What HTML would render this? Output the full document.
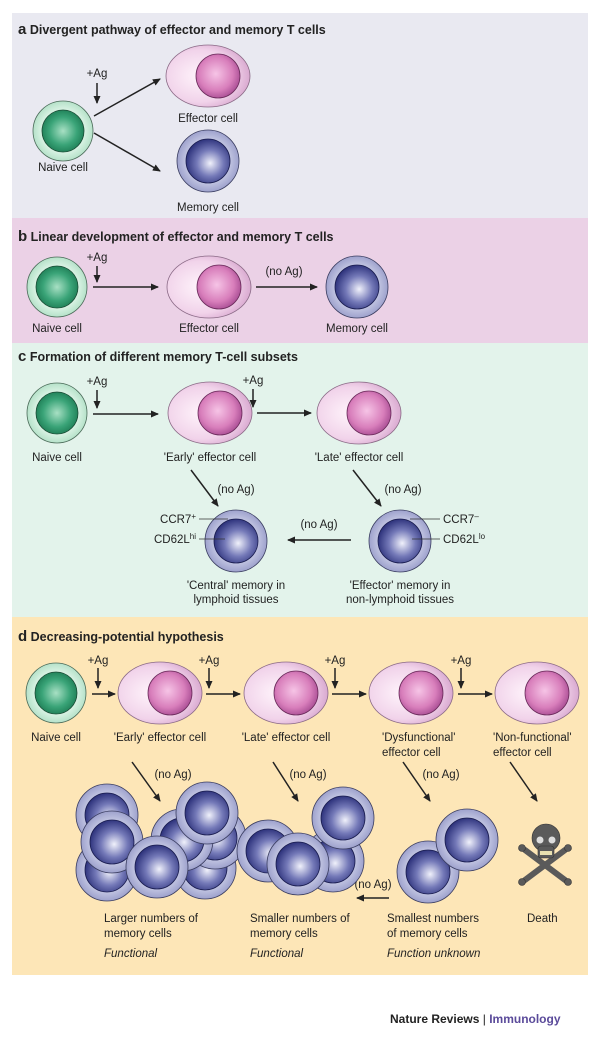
<!DOCTYPE html>
<html><head><meta charset="utf-8"><style>
html,body{margin:0;padding:0;background:#fff;}
svg{display:block;font-family:"Liberation Sans",sans-serif;}
</style></head><body>
<svg width="600" height="1039" viewBox="0 0 600 1039" xmlns="http://www.w3.org/2000/svg">
<defs>
<radialGradient id="nin" cx="50%" cy="50%" r="55%"><stop offset="0" stop-color="#a8e0c4"/><stop offset="0.6" stop-color="#3aa478"/><stop offset="1" stop-color="#1b7a52"/></radialGradient>
<radialGradient id="nout" cx="50%" cy="50%" r="55%"><stop offset="0.6" stop-color="#dff5e8"/><stop offset="1" stop-color="#a9dcc0"/></radialGradient>
<radialGradient id="eout" cx="40%" cy="50%" r="60%"><stop offset="0" stop-color="#fff4fb"/><stop offset="0.7" stop-color="#f1d3ea"/><stop offset="1" stop-color="#d9a9d0"/></radialGradient>
<radialGradient id="ein" cx="45%" cy="45%" r="55%"><stop offset="0" stop-color="#f6c4e6"/><stop offset="0.7" stop-color="#d87ebb"/><stop offset="1" stop-color="#b0559a"/></radialGradient>
<radialGradient id="mout" cx="50%" cy="50%" r="55%"><stop offset="0.55" stop-color="#cdd0e8"/><stop offset="1" stop-color="#9296c6"/></radialGradient>
<radialGradient id="min" cx="55%" cy="55%" r="55%"><stop offset="0" stop-color="#f0f1fb"/><stop offset="0.55" stop-color="#7479b8"/><stop offset="1" stop-color="#30357e"/></radialGradient>
<marker id="ah" markerWidth="8" markerHeight="8" refX="7" refY="4" orient="auto" markerUnits="userSpaceOnUse"><path d="M0,0.5 L8,4 L0,7.5 Z" fill="#222"/></marker>
<g id="naive"><circle r="30" fill="url(#nout)" stroke="#4a6a58" stroke-width="0.8"/><circle r="21" fill="url(#nin)" stroke="#1a4a34" stroke-width="0.8"/></g>
<g id="eff"><ellipse rx="42" ry="31" fill="url(#eout)" stroke="#8a6a86" stroke-width="0.8"/><circle cx="10" r="22" fill="url(#ein)" stroke="#6a2a5a" stroke-width="0.8"/></g>
<g id="mem"><circle r="31" fill="url(#mout)" stroke="#3a3d60" stroke-width="0.8"/><circle r="22" fill="url(#min)" stroke="#1a1d50" stroke-width="0.8"/></g>
</defs>
<g fill="#222" font-size="11.5">
<rect x="12" y="13" width="576" height="205" fill="#e9e9f1"/>
<rect x="12" y="218" width="576" height="125" fill="#ebd1e6"/>
<rect x="12" y="343" width="576" height="274" fill="#e3f3eb"/>
<rect x="12" y="617" width="576" height="358" fill="#fde6b7"/>

<!-- a -->
<text x="18" y="34" font-weight="bold" font-size="12.5"><tspan font-size="15">a</tspan>  Divergent pathway of effector and memory T cells</text>
<use href="#naive" x="63" y="131"/>
<text x="63" y="171" text-anchor="middle">Naive cell</text>
<text x="97" y="77" text-anchor="middle">+Ag</text>
<line x1="97" y1="83" x2="97" y2="103" stroke="#222" stroke-width="1.5" marker-end="url(#ah)"/>
<line x1="94" y1="116" x2="160" y2="79" stroke="#222" stroke-width="1.5" marker-end="url(#ah)"/>
<line x1="94" y1="133" x2="160" y2="171" stroke="#222" stroke-width="1.5" marker-end="url(#ah)"/>
<use href="#eff" x="208" y="76"/>
<text x="208" y="122" text-anchor="middle">Effector cell</text>
<use href="#mem" x="208" y="161"/>
<text x="208" y="211" text-anchor="middle">Memory cell</text>

<!-- b -->
<text x="18" y="241" font-weight="bold" font-size="12.5"><tspan font-size="15">b</tspan>  Linear development of effector and memory T cells</text>
<use href="#naive" x="57" y="287"/>
<text x="57" y="332" text-anchor="middle">Naive cell</text>
<text x="97" y="261" text-anchor="middle">+Ag</text>
<line x1="97" y1="266" x2="97" y2="282" stroke="#222" stroke-width="1.5" marker-end="url(#ah)"/>
<line x1="93" y1="287" x2="158" y2="287" stroke="#222" stroke-width="1.5" marker-end="url(#ah)"/>
<use href="#eff" x="209" y="287"/>
<text x="209" y="332" text-anchor="middle">Effector cell</text>
<text x="284" y="275" text-anchor="middle">(no Ag)</text>
<line x1="256" y1="287" x2="317" y2="287" stroke="#222" stroke-width="1.5" marker-end="url(#ah)"/>
<use href="#mem" x="357" y="287"/>
<text x="357" y="332" text-anchor="middle">Memory cell</text>

<!-- c -->
<text x="18" y="361" font-weight="bold" font-size="12.5"><tspan font-size="15">c</tspan>  Formation of different memory T-cell subsets</text>
<use href="#naive" x="57" y="413"/>
<text x="57" y="461" text-anchor="middle">Naive cell</text>
<text x="97" y="385" text-anchor="middle">+Ag</text>
<line x1="97" y1="390" x2="97" y2="408" stroke="#222" stroke-width="1.5" marker-end="url(#ah)"/>
<line x1="93" y1="414" x2="158" y2="414" stroke="#222" stroke-width="1.5" marker-end="url(#ah)"/>
<use href="#eff" x="210" y="413"/>
<text x="210" y="461" text-anchor="middle">'Early' effector cell</text>
<text x="253" y="384" text-anchor="middle">+Ag</text>
<line x1="253" y1="389" x2="253" y2="407" stroke="#222" stroke-width="1.5" marker-end="url(#ah)"/>
<line x1="257" y1="413" x2="311" y2="413" stroke="#222" stroke-width="1.5" marker-end="url(#ah)"/>
<use href="#eff" x="359" y="413"/>
<text x="359" y="461" text-anchor="middle">'Late' effector cell</text>
<line x1="191" y1="470" x2="218" y2="506" stroke="#222" stroke-width="1.5" marker-end="url(#ah)"/>
<text x="236" y="493" text-anchor="middle">(no Ag)</text>
<line x1="353" y1="470" x2="381" y2="506" stroke="#222" stroke-width="1.5" marker-end="url(#ah)"/>
<text x="403" y="493" text-anchor="middle">(no Ag)</text>
<use href="#mem" x="236" y="541"/>
<use href="#mem" x="400" y="541"/>
<line x1="199" y1="519" x2="228" y2="519" stroke="#333" stroke-width="0.8"/>
<line x1="199" y1="539" x2="225" y2="539" stroke="#333" stroke-width="0.8"/>
<text x="196" y="523" text-anchor="end">CCR7<tspan dy="-4" font-size="8">+</tspan></text>
<text x="196" y="543" text-anchor="end">CD62L<tspan dy="-4" font-size="8">hi</tspan></text>
<line x1="410" y1="519" x2="440" y2="519" stroke="#333" stroke-width="0.8"/>
<line x1="412" y1="539" x2="440" y2="539" stroke="#333" stroke-width="0.8"/>
<text x="443" y="523">CCR7<tspan dy="-4" font-size="8">–</tspan></text>
<text x="443" y="543">CD62L<tspan dy="-4" font-size="8">lo</tspan></text>
<text x="319" y="528" text-anchor="middle">(no Ag)</text>
<line x1="351" y1="540" x2="288" y2="540" stroke="#222" stroke-width="1.5" marker-end="url(#ah)"/>
<text x="236" y="589" text-anchor="middle">'Central' memory in</text>
<text x="236" y="603" text-anchor="middle">lymphoid tissues</text>
<text x="400" y="589" text-anchor="middle">'Effector' memory in</text>
<text x="400" y="603" text-anchor="middle">non-lymphoid tissues</text>

<!-- d -->
<text x="18" y="641" font-weight="bold" font-size="12.5"><tspan font-size="15">d</tspan>  Decreasing-potential hypothesis</text>
<use href="#naive" x="56" y="693"/>
<text x="56" y="741" text-anchor="middle">Naive cell</text>
<use href="#eff" x="160" y="693"/>
<text x="160" y="741" text-anchor="middle">'Early' effector cell</text>
<use href="#eff" x="286" y="693"/>
<text x="286" y="741" text-anchor="middle">'Late' effector cell</text>
<use href="#eff" x="411" y="693"/>
<text x="382" y="741">'Dysfunctional'</text>
<text x="382" y="756">effector cell</text>
<use href="#eff" x="537" y="693"/>
<text x="493" y="741">'Non-functional'</text>
<text x="493" y="756">effector cell</text>
<g stroke="#222" stroke-width="1.5">
<line x1="98" y1="668" x2="98" y2="688" marker-end="url(#ah)"/>
<line x1="92" y1="694" x2="115" y2="694" marker-end="url(#ah)"/>
<line x1="209" y1="668" x2="209" y2="688" marker-end="url(#ah)"/>
<line x1="206" y1="694" x2="240" y2="694" marker-end="url(#ah)"/>
<line x1="335" y1="668" x2="335" y2="688" marker-end="url(#ah)"/>
<line x1="332" y1="694" x2="366" y2="694" marker-end="url(#ah)"/>
<line x1="461" y1="668" x2="461" y2="688" marker-end="url(#ah)"/>
<line x1="458" y1="694" x2="492" y2="694" marker-end="url(#ah)"/>
<line x1="132" y1="762" x2="160" y2="801" marker-end="url(#ah)"/>
<line x1="273" y1="762" x2="298" y2="801" marker-end="url(#ah)"/>
<line x1="403" y1="762" x2="430" y2="801" marker-end="url(#ah)"/>
<line x1="510" y1="762" x2="537" y2="801" marker-end="url(#ah)"/>
<line x1="389" y1="898" x2="357" y2="898" marker-end="url(#ah)"/>
</g>
<text x="98" y="664" text-anchor="middle">+Ag</text>
<text x="209" y="664" text-anchor="middle">+Ag</text>
<text x="335" y="664" text-anchor="middle">+Ag</text>
<text x="461" y="664" text-anchor="middle">+Ag</text>
<text x="173" y="778" text-anchor="middle">(no Ag)</text>
<text x="308" y="778" text-anchor="middle">(no Ag)</text>
<text x="441" y="778" text-anchor="middle">(no Ag)</text>
<text x="373" y="888" text-anchor="middle">(no Ag)</text>
<use href="#mem" x="107" y="815"/>
<use href="#mem" x="107" y="870"/>
<use href="#mem" x="205" y="868"/>
<use href="#mem" x="215" y="838"/>
<use href="#mem" x="182" y="840"/>
<use href="#mem" x="112" y="842"/>
<use href="#mem" x="157" y="867"/>
<use href="#mem" x="207" y="813"/>
<use href="#mem" x="268" y="851"/>
<use href="#mem" x="333" y="861"/>
<use href="#mem" x="298" y="864"/>
<use href="#mem" x="343" y="818"/>
<use href="#mem" x="428" y="872"/>
<use href="#mem" x="467" y="840"/>
<g fill="#5a5a5a" stroke="#333" stroke-width="0.6">
<path d="M525,850 L565,880 M565,850 L525,880" stroke="#5a5a5a" stroke-width="6" stroke-linecap="round"/>
<circle cx="522" cy="848" r="3.5"/><circle cx="522" cy="882" r="3.5"/><circle cx="568" cy="848" r="3.5"/><circle cx="568" cy="882" r="3.5"/>
<ellipse cx="546" cy="838" rx="14" ry="14"/>
<rect x="538" y="846" width="16" height="12" rx="3"/>
</g>
<circle cx="540" cy="840" r="3.5" fill="#ddd"/><circle cx="552" cy="840" r="3.5" fill="#ddd"/>
<rect x="540" y="851" width="12" height="4" fill="#e8e0b0"/>
<text x="104" y="922">Larger numbers of</text>
<text x="104" y="937">memory cells</text>
<text x="104" y="957" font-style="italic">Functional</text>
<text x="250" y="922">Smaller numbers of</text>
<text x="250" y="937">memory cells</text>
<text x="250" y="957" font-style="italic">Functional</text>
<text x="387" y="922">Smallest numbers</text>
<text x="387" y="937">of memory cells</text>
<text x="387" y="957" font-style="italic">Function unknown</text>
<text x="527" y="922">Death</text>

<text x="390" y="1023" font-weight="bold" font-size="12">Nature Reviews <tspan fill="#222" font-weight="normal">|</tspan> <tspan fill="#5a4a9a">Immunology</tspan></text>
</g>
</svg>
</body></html>
